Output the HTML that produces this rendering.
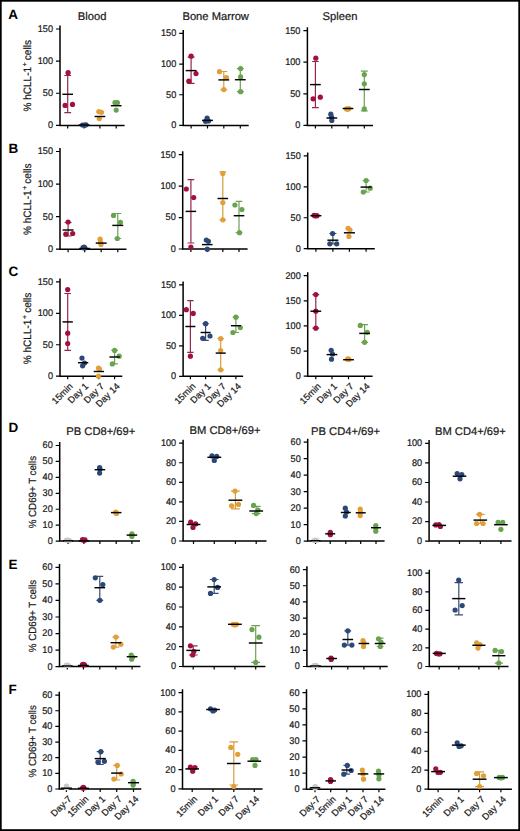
<!DOCTYPE html>
<html><head><meta charset="utf-8"><style>
html,body{margin:0;padding:0;background:#fff;}
svg{display:block;}
text{text-rendering:geometricPrecision;stroke:#1a1a1a;stroke-width:0.22px;}
.le{stroke:none;}
.t{font-family:"Liberation Sans", sans-serif;font-size:9.7px;fill:#1a1a1a;}
.ti{font-family:"Liberation Sans", sans-serif;font-size:11.2px;fill:#1a1a1a;}
.xl{font-family:"Liberation Sans", sans-serif;font-size:9.3px;fill:#1a1a1a;}
.le{font-family:"Liberation Sans", sans-serif;font-size:13.5px;font-weight:bold;fill:#000;}
.yl{font-family:"Liberation Sans", sans-serif;font-size:10.2px;fill:#1a1a1a;}
</style></head><body>
<svg width="520" height="831" viewBox="0 0 520 831">
<rect x="0" y="0" width="520" height="831" fill="#000"/>
<rect x="1.7" y="1.7" width="516.6" height="827.5" fill="#fff"/>
<path d="M60.00 25.60V125.40M59.25 125.40H124.60" stroke="#000" stroke-width="1.5" fill="none"/>
<text transform="translate(53.00 128.32) scale(0.94,1)" class="t" text-anchor="end">0</text>
<text transform="translate(53.00 96.19) scale(0.94,1)" class="t" text-anchor="end">50</text>
<text transform="translate(53.00 64.06) scale(0.94,1)" class="t" text-anchor="end">100</text>
<text transform="translate(53.00 31.92) scale(0.94,1)" class="t" text-anchor="end">150</text>
<path d="M56.00 125.40H60.00M56.00 93.27H60.00M56.00 61.13H60.00M56.00 29.00H60.00M67.70 125.40V128.40M84.10 125.40V128.40M99.90 125.40V128.40M116.20 125.40V128.40" stroke="#000" stroke-width="1.2" fill="none"/>
<path d="M67.70 75.50V112.60M64.31 75.50H71.09M64.31 112.60H71.09" stroke="#922a4c" stroke-width="1.2" fill="none"/>
<circle cx="68.10" cy="72.70" r="2.6" fill="#a2103c"/>
<circle cx="65.10" cy="105.40" r="2.6" fill="#a2103c"/>
<circle cx="72.50" cy="104.40" r="2.6" fill="#a2103c"/>
<path d="M62.37 94.30H73.03" stroke="#000" stroke-width="1.45"/>
<circle cx="82.50" cy="125.00" r="2.6" fill="#2c4878"/>
<circle cx="84.50" cy="125.20" r="2.6" fill="#2c4878"/>
<circle cx="86.00" cy="124.80" r="2.6" fill="#2c4878"/>
<path d="M78.76 125.00H89.44" stroke="#000" stroke-width="1.45"/>
<circle cx="98.80" cy="111.70" r="2.6" fill="#e29f37"/>
<circle cx="101.50" cy="112.30" r="2.6" fill="#e29f37"/>
<circle cx="99.30" cy="118.60" r="2.6" fill="#e29f37"/>
<path d="M94.56 116.50H105.24" stroke="#000" stroke-width="1.45"/>
<circle cx="115.00" cy="102.70" r="2.6" fill="#68a44e"/>
<circle cx="117.40" cy="102.70" r="2.6" fill="#68a44e"/>
<circle cx="116.20" cy="110.10" r="2.6" fill="#68a44e"/>
<path d="M110.87 105.70H121.53" stroke="#000" stroke-width="1.45"/>
<path d="M183.20 30.00V125.40M182.45 125.40H248.70" stroke="#000" stroke-width="1.5" fill="none"/>
<text transform="translate(176.20 128.32) scale(0.94,1)" class="t" text-anchor="end">0</text>
<text transform="translate(176.20 97.66) scale(0.94,1)" class="t" text-anchor="end">50</text>
<text transform="translate(176.20 66.99) scale(0.94,1)" class="t" text-anchor="end">100</text>
<text transform="translate(176.20 36.32) scale(0.94,1)" class="t" text-anchor="end">150</text>
<path d="M179.20 125.40H183.20M179.20 94.73H183.20M179.20 64.07H183.20M179.20 33.40H183.20M191.10 125.40V128.40M207.50 125.40V128.40M223.80 125.40V128.40M240.30 125.40V128.40" stroke="#000" stroke-width="1.2" fill="none"/>
<path d="M191.10 57.10V83.30M187.66 57.10H194.54M187.66 83.30H194.54" stroke="#922a4c" stroke-width="1.2" fill="none"/>
<circle cx="191.10" cy="56.20" r="2.6" fill="#a2103c"/>
<circle cx="196.00" cy="73.60" r="2.6" fill="#a2103c"/>
<circle cx="188.80" cy="81.20" r="2.6" fill="#a2103c"/>
<path d="M185.69 70.60H196.51" stroke="#000" stroke-width="1.45"/>
<circle cx="207.10" cy="118.20" r="2.6" fill="#2c4878"/>
<circle cx="205.50" cy="121.30" r="2.6" fill="#2c4878"/>
<circle cx="208.50" cy="121.00" r="2.6" fill="#2c4878"/>
<path d="M202.09 120.40H212.91" stroke="#000" stroke-width="1.45"/>
<path d="M223.80 71.50V89.60M220.36 71.50H227.24M220.36 89.60H227.24" stroke="#d59c3e" stroke-width="1.2" fill="none"/>
<circle cx="219.50" cy="71.70" r="2.6" fill="#e29f37"/>
<circle cx="226.40" cy="77.50" r="2.6" fill="#e29f37"/>
<circle cx="223.80" cy="89.60" r="2.6" fill="#e29f37"/>
<path d="M218.39 79.90H229.21" stroke="#000" stroke-width="1.45"/>
<path d="M240.30 68.60V91.70M236.86 68.60H243.74M236.86 91.70H243.74" stroke="#6ea058" stroke-width="1.2" fill="none"/>
<circle cx="240.60" cy="68.60" r="2.6" fill="#68a44e"/>
<circle cx="240.60" cy="76.90" r="2.6" fill="#68a44e"/>
<circle cx="240.60" cy="91.70" r="2.6" fill="#68a44e"/>
<path d="M234.89 79.70H245.71" stroke="#000" stroke-width="1.45"/>
<path d="M307.40 27.20V125.40M306.65 125.40H373.00" stroke="#000" stroke-width="1.5" fill="none"/>
<text transform="translate(300.40 128.32) scale(0.94,1)" class="t" text-anchor="end">0</text>
<text transform="translate(300.40 96.72) scale(0.94,1)" class="t" text-anchor="end">50</text>
<text transform="translate(300.40 65.12) scale(0.94,1)" class="t" text-anchor="end">100</text>
<text transform="translate(300.40 33.52) scale(0.94,1)" class="t" text-anchor="end">150</text>
<path d="M303.40 125.40H307.40M303.40 93.80H307.40M303.40 62.20H307.40M303.40 30.60H307.40M315.40 125.40V128.40M331.80 125.40V128.40M348.00 125.40V128.40M364.30 125.40V128.40" stroke="#000" stroke-width="1.2" fill="none"/>
<path d="M315.40 61.50V107.70M311.98 61.50H318.82M311.98 107.70H318.82" stroke="#922a4c" stroke-width="1.2" fill="none"/>
<circle cx="315.80" cy="58.20" r="2.6" fill="#a2103c"/>
<circle cx="313.10" cy="98.80" r="2.6" fill="#a2103c"/>
<circle cx="320.30" cy="97.20" r="2.6" fill="#a2103c"/>
<path d="M310.02 84.60H320.78" stroke="#000" stroke-width="1.45"/>
<circle cx="330.80" cy="114.20" r="2.6" fill="#2c4878"/>
<circle cx="331.50" cy="117.00" r="2.6" fill="#2c4878"/>
<circle cx="331.80" cy="120.50" r="2.6" fill="#2c4878"/>
<path d="M326.42 118.00H337.18" stroke="#000" stroke-width="1.45"/>
<circle cx="346.50" cy="108.90" r="2.6" fill="#e29f37"/>
<circle cx="349.00" cy="108.50" r="2.6" fill="#e29f37"/>
<circle cx="348.00" cy="109.20" r="2.6" fill="#e29f37"/>
<path d="M342.62 108.50H353.38" stroke="#000" stroke-width="1.45"/>
<path d="M364.30 71.20V110.80M360.88 71.20H367.72M360.88 110.80H367.72" stroke="#6ea058" stroke-width="1.2" fill="none"/>
<circle cx="364.30" cy="74.60" r="2.6" fill="#68a44e"/>
<circle cx="364.30" cy="83.80" r="2.6" fill="#68a44e"/>
<circle cx="364.30" cy="108.90" r="2.6" fill="#68a44e"/>
<path d="M358.92 89.50H369.68" stroke="#000" stroke-width="1.45"/>
<path d="M60.00 148.10V249.20M59.25 249.20H126.50" stroke="#000" stroke-width="1.5" fill="none"/>
<text transform="translate(53.00 252.12) scale(0.94,1)" class="t" text-anchor="end">0</text>
<text transform="translate(53.00 219.56) scale(0.94,1)" class="t" text-anchor="end">50</text>
<text transform="translate(53.00 186.99) scale(0.94,1)" class="t" text-anchor="end">100</text>
<text transform="translate(53.00 154.42) scale(0.94,1)" class="t" text-anchor="end">150</text>
<path d="M56.00 249.20H60.00M56.00 216.63H60.00M56.00 184.07H60.00M56.00 151.50H60.00M68.10 249.20V252.20M84.70 249.20V252.20M101.20 249.20V252.20M117.80 249.20V252.20" stroke="#000" stroke-width="1.2" fill="none"/>
<path d="M68.10 222.50V236.00M64.62 222.50H71.58M64.62 236.00H71.58" stroke="#922a4c" stroke-width="1.2" fill="none"/>
<circle cx="68.10" cy="222.00" r="2.6" fill="#a2103c"/>
<circle cx="65.80" cy="234.20" r="2.6" fill="#a2103c"/>
<circle cx="72.70" cy="233.50" r="2.6" fill="#a2103c"/>
<path d="M62.63 230.00H73.57" stroke="#000" stroke-width="1.45"/>
<circle cx="83.00" cy="247.70" r="2.6" fill="#2c4878"/>
<circle cx="85.00" cy="248.00" r="2.6" fill="#2c4878"/>
<circle cx="84.20" cy="247.20" r="2.6" fill="#2c4878"/>
<path d="M79.23 248.50H90.17" stroke="#000" stroke-width="1.45"/>
<circle cx="100.10" cy="239.20" r="2.6" fill="#e29f37"/>
<circle cx="100.50" cy="242.30" r="2.6" fill="#e29f37"/>
<circle cx="101.00" cy="244.50" r="2.6" fill="#e29f37"/>
<path d="M95.73 243.10H106.67" stroke="#000" stroke-width="1.45"/>
<path d="M117.80 213.50V238.50M114.32 213.50H121.28M114.32 238.50H121.28" stroke="#6ea058" stroke-width="1.2" fill="none"/>
<circle cx="113.50" cy="215.40" r="2.6" fill="#68a44e"/>
<circle cx="120.40" cy="222.30" r="2.6" fill="#68a44e"/>
<circle cx="117.30" cy="238.50" r="2.6" fill="#68a44e"/>
<path d="M112.33 225.40H123.27" stroke="#000" stroke-width="1.45"/>
<path d="M182.70 151.30V249.00M181.95 249.00H247.60" stroke="#000" stroke-width="1.5" fill="none"/>
<text transform="translate(175.70 251.92) scale(0.94,1)" class="t" text-anchor="end">0</text>
<text transform="translate(175.70 220.49) scale(0.94,1)" class="t" text-anchor="end">50</text>
<text transform="translate(175.70 189.06) scale(0.94,1)" class="t" text-anchor="end">100</text>
<text transform="translate(175.70 157.62) scale(0.94,1)" class="t" text-anchor="end">150</text>
<path d="M178.70 249.00H182.70M178.70 217.57H182.70M178.70 186.13H182.70M178.70 154.70H182.70M190.90 249.00V252.00M207.30 249.00V252.00M222.80 249.00V252.00M239.00 249.00V252.00" stroke="#000" stroke-width="1.2" fill="none"/>
<path d="M190.90 179.70V243.00M187.53 179.70H194.27M187.53 243.00H194.27" stroke="#922a4c" stroke-width="1.2" fill="none"/>
<circle cx="186.30" cy="189.00" r="2.6" fill="#a2103c"/>
<circle cx="193.70" cy="197.50" r="2.6" fill="#a2103c"/>
<circle cx="190.90" cy="247.10" r="2.6" fill="#a2103c"/>
<path d="M185.61 211.40H196.19" stroke="#000" stroke-width="1.45"/>
<circle cx="206.30" cy="240.00" r="2.6" fill="#2c4878"/>
<circle cx="208.40" cy="241.30" r="2.6" fill="#2c4878"/>
<circle cx="207.30" cy="249.20" r="2.6" fill="#2c4878"/>
<path d="M202.01 244.60H212.59" stroke="#000" stroke-width="1.45"/>
<path d="M222.80 171.90V220.00M219.43 171.90H226.17M219.43 220.00H226.17" stroke="#d59c3e" stroke-width="1.2" fill="none"/>
<circle cx="222.80" cy="173.50" r="2.6" fill="#e29f37"/>
<circle cx="222.80" cy="202.60" r="2.6" fill="#e29f37"/>
<circle cx="222.80" cy="219.80" r="2.6" fill="#e29f37"/>
<path d="M217.51 198.50H228.09" stroke="#000" stroke-width="1.45"/>
<path d="M239.00 201.30V232.70M235.63 201.30H242.37M235.63 232.70H242.37" stroke="#6ea058" stroke-width="1.2" fill="none"/>
<circle cx="234.90" cy="205.00" r="2.6" fill="#68a44e"/>
<circle cx="241.90" cy="209.50" r="2.6" fill="#68a44e"/>
<circle cx="239.50" cy="232.70" r="2.6" fill="#68a44e"/>
<path d="M233.71 215.70H244.29" stroke="#000" stroke-width="1.45"/>
<path d="M307.70 152.50V248.70M306.95 248.70H374.80" stroke="#000" stroke-width="1.5" fill="none"/>
<text transform="translate(300.70 251.62) scale(0.94,1)" class="t" text-anchor="end">0</text>
<text transform="translate(300.70 220.69) scale(0.94,1)" class="t" text-anchor="end">50</text>
<text transform="translate(300.70 189.76) scale(0.94,1)" class="t" text-anchor="end">100</text>
<text transform="translate(300.70 158.82) scale(0.94,1)" class="t" text-anchor="end">150</text>
<path d="M303.70 248.70H307.70M303.70 217.77H307.70M303.70 186.83H307.70M303.70 155.90H307.70M315.90 248.70V251.70M332.90 248.70V251.70M349.40 248.70V251.70M366.10 248.70V251.70" stroke="#000" stroke-width="1.2" fill="none"/>
<circle cx="314.00" cy="215.30" r="2.6" fill="#a2103c"/>
<circle cx="317.00" cy="215.70" r="2.6" fill="#a2103c"/>
<circle cx="315.40" cy="216.00" r="2.6" fill="#a2103c"/>
<path d="M310.38 215.70H321.42" stroke="#000" stroke-width="1.45"/>
<path d="M332.90 233.50V244.00M329.39 233.50H336.41M329.39 244.00H336.41" stroke="#3a4c72" stroke-width="1.2" fill="none"/>
<circle cx="332.60" cy="233.50" r="2.6" fill="#2c4878"/>
<circle cx="329.80" cy="243.80" r="2.6" fill="#2c4878"/>
<circle cx="336.70" cy="243.80" r="2.6" fill="#2c4878"/>
<path d="M327.38 240.20H338.42" stroke="#000" stroke-width="1.45"/>
<circle cx="348.10" cy="228.30" r="2.6" fill="#e29f37"/>
<circle cx="350.00" cy="230.00" r="2.6" fill="#e29f37"/>
<circle cx="348.90" cy="236.40" r="2.6" fill="#e29f37"/>
<path d="M343.88 232.80H354.92" stroke="#000" stroke-width="1.45"/>
<path d="M366.10 180.50V192.00M362.59 180.50H369.61M362.59 192.00H369.61" stroke="#6ea058" stroke-width="1.2" fill="none"/>
<circle cx="366.10" cy="180.50" r="2.6" fill="#68a44e"/>
<circle cx="370.20" cy="188.20" r="2.6" fill="#68a44e"/>
<circle cx="363.30" cy="192.00" r="2.6" fill="#68a44e"/>
<path d="M360.58 187.10H371.62" stroke="#000" stroke-width="1.45"/>
<path d="M60.00 278.50V376.20M59.25 376.20H122.30" stroke="#000" stroke-width="1.5" fill="none"/>
<text transform="translate(53.00 379.12) scale(0.94,1)" class="t" text-anchor="end">0</text>
<text transform="translate(53.00 347.69) scale(0.94,1)" class="t" text-anchor="end">50</text>
<text transform="translate(53.00 316.26) scale(0.94,1)" class="t" text-anchor="end">100</text>
<text transform="translate(53.00 284.82) scale(0.94,1)" class="t" text-anchor="end">150</text>
<path d="M56.00 376.20H60.00M56.00 344.77H60.00M56.00 313.33H60.00M56.00 281.90H60.00M67.70 376.20V379.20M83.10 376.20V379.20M98.90 376.20V379.20M114.60 376.20V379.20" stroke="#000" stroke-width="1.2" fill="none"/>
<path d="M67.70 293.50V350.40M64.42 293.50H70.98M64.42 350.40H70.98" stroke="#922a4c" stroke-width="1.2" fill="none"/>
<circle cx="67.70" cy="289.60" r="2.6" fill="#a2103c"/>
<circle cx="67.70" cy="333.20" r="2.6" fill="#a2103c"/>
<circle cx="67.70" cy="343.50" r="2.6" fill="#a2103c"/>
<path d="M62.54 321.90H72.86" stroke="#000" stroke-width="1.45"/>
<circle cx="82.00" cy="358.10" r="2.6" fill="#2c4878"/>
<circle cx="84.50" cy="363.00" r="2.6" fill="#2c4878"/>
<circle cx="82.60" cy="365.80" r="2.6" fill="#2c4878"/>
<path d="M77.94 362.70H88.26" stroke="#000" stroke-width="1.45"/>
<circle cx="98.50" cy="368.10" r="2.6" fill="#e29f37"/>
<circle cx="99.50" cy="369.00" r="2.6" fill="#e29f37"/>
<circle cx="98.50" cy="376.20" r="2.6" fill="#e29f37"/>
<path d="M93.74 371.50H104.06" stroke="#000" stroke-width="1.45"/>
<path d="M114.60 350.40V363.90M111.32 350.40H117.88M111.32 363.90H117.88" stroke="#6ea058" stroke-width="1.2" fill="none"/>
<circle cx="114.60" cy="350.40" r="2.6" fill="#68a44e"/>
<circle cx="119.20" cy="356.20" r="2.6" fill="#68a44e"/>
<circle cx="112.30" cy="363.90" r="2.6" fill="#68a44e"/>
<path d="M109.44 357.00H119.76" stroke="#000" stroke-width="1.45"/>
<text class="xl" text-anchor="end" transform="translate(73.40 386.80) rotate(-45)">15min</text>
<text class="xl" text-anchor="end" transform="translate(88.80 386.80) rotate(-45)">Day 1</text>
<text class="xl" text-anchor="end" transform="translate(104.60 386.80) rotate(-45)">Day 7</text>
<text class="xl" text-anchor="end" transform="translate(120.30 386.80) rotate(-45)">Day 14</text>
<path d="M183.10 281.40V376.30M182.35 376.30H243.10" stroke="#000" stroke-width="1.5" fill="none"/>
<text transform="translate(176.10 379.22) scale(0.94,1)" class="t" text-anchor="end">0</text>
<text transform="translate(176.10 348.72) scale(0.94,1)" class="t" text-anchor="end">50</text>
<text transform="translate(176.10 318.22) scale(0.94,1)" class="t" text-anchor="end">100</text>
<text transform="translate(176.10 287.72) scale(0.94,1)" class="t" text-anchor="end">150</text>
<path d="M179.10 376.30H183.10M179.10 345.80H183.10M179.10 315.30H183.10M179.10 284.80H183.10M190.40 376.30V379.30M205.60 376.30V379.30M220.70 376.30V379.30M235.90 376.30V379.30" stroke="#000" stroke-width="1.2" fill="none"/>
<path d="M190.40 300.70V352.30M187.22 300.70H193.59M187.22 352.30H193.59" stroke="#922a4c" stroke-width="1.2" fill="none"/>
<circle cx="186.30" cy="309.70" r="2.6" fill="#a2103c"/>
<circle cx="193.20" cy="313.40" r="2.6" fill="#a2103c"/>
<circle cx="190.40" cy="356.20" r="2.6" fill="#a2103c"/>
<path d="M185.40 326.50H195.41" stroke="#000" stroke-width="1.45"/>
<path d="M205.60 323.70V340.40M202.41 323.70H208.78M202.41 340.40H208.78" stroke="#3a4c72" stroke-width="1.2" fill="none"/>
<circle cx="205.60" cy="323.70" r="2.6" fill="#2c4878"/>
<circle cx="202.70" cy="338.30" r="2.6" fill="#2c4878"/>
<circle cx="210.00" cy="336.00" r="2.6" fill="#2c4878"/>
<path d="M200.59 332.50H210.60" stroke="#000" stroke-width="1.45"/>
<path d="M220.70 338.70V369.80M217.51 338.70H223.88M217.51 369.80H223.88" stroke="#d59c3e" stroke-width="1.2" fill="none"/>
<circle cx="220.70" cy="338.70" r="2.6" fill="#e29f37"/>
<circle cx="220.70" cy="350.50" r="2.6" fill="#e29f37"/>
<circle cx="220.70" cy="369.80" r="2.6" fill="#e29f37"/>
<path d="M215.69 353.10H225.70" stroke="#000" stroke-width="1.45"/>
<path d="M235.90 317.20V332.50M232.72 317.20H239.09M232.72 332.50H239.09" stroke="#6ea058" stroke-width="1.2" fill="none"/>
<circle cx="235.90" cy="317.20" r="2.6" fill="#68a44e"/>
<circle cx="240.30" cy="327.60" r="2.6" fill="#68a44e"/>
<circle cx="232.90" cy="332.50" r="2.6" fill="#68a44e"/>
<path d="M230.90 325.70H240.91" stroke="#000" stroke-width="1.45"/>
<text class="xl" text-anchor="end" transform="translate(196.10 386.90) rotate(-45)">15min</text>
<text class="xl" text-anchor="end" transform="translate(211.30 386.90) rotate(-45)">Day 1</text>
<text class="xl" text-anchor="end" transform="translate(226.40 386.90) rotate(-45)">Day 7</text>
<text class="xl" text-anchor="end" transform="translate(241.60 386.90) rotate(-45)">Day 14</text>
<path d="M307.70 272.30V376.20M306.95 376.20H372.60" stroke="#000" stroke-width="1.5" fill="none"/>
<text transform="translate(300.70 379.12) scale(0.94,1)" class="t" text-anchor="end">0</text>
<text transform="translate(300.70 354.00) scale(0.94,1)" class="t" text-anchor="end">50</text>
<text transform="translate(300.70 328.87) scale(0.94,1)" class="t" text-anchor="end">100</text>
<text transform="translate(300.70 303.75) scale(0.94,1)" class="t" text-anchor="end">150</text>
<text transform="translate(300.70 278.62) scale(0.94,1)" class="t" text-anchor="end">200</text>
<path d="M303.70 376.20H307.70M303.70 351.07H307.70M303.70 325.95H307.70M303.70 300.82H307.70M303.70 275.70H307.70M315.80 376.20V379.20M332.00 376.20V379.20M348.50 376.20V379.20M364.60 376.20V379.20" stroke="#000" stroke-width="1.2" fill="none"/>
<path d="M315.80 294.60V328.20M312.38 294.60H319.22M312.38 328.20H319.22" stroke="#922a4c" stroke-width="1.2" fill="none"/>
<circle cx="315.80" cy="294.60" r="2.6" fill="#a2103c"/>
<circle cx="315.80" cy="311.20" r="2.6" fill="#a2103c"/>
<circle cx="315.80" cy="328.20" r="2.6" fill="#a2103c"/>
<path d="M310.43 311.20H321.17" stroke="#000" stroke-width="1.45"/>
<circle cx="331.20" cy="350.30" r="2.6" fill="#2c4878"/>
<circle cx="332.50" cy="354.00" r="2.6" fill="#2c4878"/>
<circle cx="331.50" cy="359.20" r="2.6" fill="#2c4878"/>
<path d="M326.63 354.60H337.37" stroke="#000" stroke-width="1.45"/>
<circle cx="347.50" cy="359.20" r="2.6" fill="#e29f37"/>
<circle cx="349.00" cy="359.50" r="2.6" fill="#e29f37"/>
<circle cx="348.30" cy="358.80" r="2.6" fill="#e29f37"/>
<path d="M343.13 359.70H353.87" stroke="#000" stroke-width="1.45"/>
<path d="M364.60 324.60V342.30M361.18 324.60H368.02M361.18 342.30H368.02" stroke="#6ea058" stroke-width="1.2" fill="none"/>
<circle cx="360.30" cy="325.40" r="2.6" fill="#68a44e"/>
<circle cx="367.20" cy="332.30" r="2.6" fill="#68a44e"/>
<circle cx="364.60" cy="342.30" r="2.6" fill="#68a44e"/>
<path d="M359.23 333.40H369.97" stroke="#000" stroke-width="1.45"/>
<text class="xl" text-anchor="end" transform="translate(321.50 386.80) rotate(-45)">15min</text>
<text class="xl" text-anchor="end" transform="translate(337.70 386.80) rotate(-45)">Day 1</text>
<text class="xl" text-anchor="end" transform="translate(354.20 386.80) rotate(-45)">Day 7</text>
<text class="xl" text-anchor="end" transform="translate(370.30 386.80) rotate(-45)">Day 14</text>
<path d="M59.70 442.10V541.10M58.95 541.10H140.00" stroke="#000" stroke-width="1.5" fill="none"/>
<text transform="translate(52.70 544.02) scale(0.94,1)" class="t" text-anchor="end">0</text>
<text transform="translate(52.70 528.09) scale(0.94,1)" class="t" text-anchor="end">10</text>
<text transform="translate(52.70 512.16) scale(0.94,1)" class="t" text-anchor="end">20</text>
<text transform="translate(52.70 496.22) scale(0.94,1)" class="t" text-anchor="end">30</text>
<text transform="translate(52.70 480.29) scale(0.94,1)" class="t" text-anchor="end">40</text>
<text transform="translate(52.70 464.36) scale(0.94,1)" class="t" text-anchor="end">50</text>
<text transform="translate(52.70 448.42) scale(0.94,1)" class="t" text-anchor="end">60</text>
<path d="M55.70 541.10H59.70M55.70 525.17H59.70M55.70 509.23H59.70M55.70 493.30H59.70M55.70 477.37H59.70M55.70 461.43H59.70M55.70 445.50H59.70M68.10 541.10V544.10M83.90 541.10V544.10M99.90 541.10V544.10M116.20 541.10V544.10M131.90 541.10V544.10" stroke="#000" stroke-width="1.2" fill="none"/>
<circle cx="66.50" cy="540.20" r="2.6" fill="#c9c9c9"/>
<circle cx="69.50" cy="540.50" r="2.6" fill="#c9c9c9"/>
<circle cx="68.00" cy="540.00" r="2.6" fill="#c9c9c9"/>
<path d="M62.84 540.80H73.36" stroke="#000" stroke-width="1.45"/>
<circle cx="82.50" cy="539.70" r="2.6" fill="#a2103c"/>
<circle cx="85.00" cy="539.90" r="2.6" fill="#a2103c"/>
<circle cx="83.90" cy="540.30" r="2.6" fill="#a2103c"/>
<path d="M78.64 540.90H89.16" stroke="#000" stroke-width="1.45"/>
<circle cx="99.60" cy="467.70" r="2.6" fill="#2c4878"/>
<circle cx="99.60" cy="473.10" r="2.6" fill="#2c4878"/>
<circle cx="100.00" cy="469.00" r="2.6" fill="#2c4878"/>
<path d="M94.64 469.70H105.16" stroke="#000" stroke-width="1.45"/>
<circle cx="115.80" cy="512.00" r="2.6" fill="#e29f37"/>
<circle cx="116.50" cy="513.50" r="2.6" fill="#e29f37"/>
<circle cx="116.00" cy="512.80" r="2.6" fill="#e29f37"/>
<path d="M110.94 512.60H121.46" stroke="#000" stroke-width="1.45"/>
<circle cx="131.90" cy="533.80" r="2.6" fill="#68a44e"/>
<circle cx="131.90" cy="536.50" r="2.6" fill="#68a44e"/>
<circle cx="132.00" cy="535.00" r="2.6" fill="#68a44e"/>
<path d="M126.64 535.10H137.16" stroke="#000" stroke-width="1.45"/>
<path d="M183.10 439.80V541.00M182.35 541.00H266.50" stroke="#000" stroke-width="1.5" fill="none"/>
<text transform="translate(176.10 543.92) scale(0.94,1)" class="t" text-anchor="end">0</text>
<text transform="translate(176.10 524.36) scale(0.94,1)" class="t" text-anchor="end">20</text>
<text transform="translate(176.10 504.80) scale(0.94,1)" class="t" text-anchor="end">40</text>
<text transform="translate(176.10 485.24) scale(0.94,1)" class="t" text-anchor="end">60</text>
<text transform="translate(176.10 465.68) scale(0.94,1)" class="t" text-anchor="end">80</text>
<text transform="translate(176.10 446.12) scale(0.94,1)" class="t" text-anchor="end">100</text>
<path d="M179.10 541.00H183.10M179.10 521.44H183.10M179.10 501.88H183.10M179.10 482.32H183.10M179.10 462.76H183.10M179.10 443.20H183.10M193.50 541.00V544.00M214.30 541.00V544.00M235.40 541.00V544.00M256.20 541.00V544.00" stroke="#000" stroke-width="1.2" fill="none"/>
<circle cx="190.70" cy="522.20" r="2.6" fill="#a2103c"/>
<circle cx="195.60" cy="523.90" r="2.6" fill="#a2103c"/>
<circle cx="193.00" cy="527.40" r="2.6" fill="#a2103c"/>
<path d="M186.60 524.50H200.40" stroke="#000" stroke-width="1.45"/>
<circle cx="212.00" cy="455.90" r="2.6" fill="#2c4878"/>
<circle cx="216.70" cy="456.40" r="2.6" fill="#2c4878"/>
<circle cx="214.30" cy="460.40" r="2.6" fill="#2c4878"/>
<path d="M207.40 457.30H221.20" stroke="#000" stroke-width="1.45"/>
<path d="M235.40 491.10V508.90M231.01 491.10H239.79M231.01 508.90H239.79" stroke="#d59c3e" stroke-width="1.2" fill="none"/>
<circle cx="235.00" cy="491.10" r="2.6" fill="#e29f37"/>
<circle cx="231.60" cy="505.80" r="2.6" fill="#e29f37"/>
<circle cx="238.50" cy="504.40" r="2.6" fill="#e29f37"/>
<path d="M228.50 500.20H242.30" stroke="#000" stroke-width="1.45"/>
<path d="M256.20 506.30V513.60M251.81 506.30H260.59M251.81 513.60H260.59" stroke="#6ea058" stroke-width="1.2" fill="none"/>
<circle cx="253.60" cy="505.40" r="2.6" fill="#68a44e"/>
<circle cx="256.20" cy="513.60" r="2.6" fill="#68a44e"/>
<circle cx="258.00" cy="510.00" r="2.6" fill="#68a44e"/>
<path d="M249.30 511.00H263.10" stroke="#000" stroke-width="1.45"/>
<path d="M307.70 438.80V541.10M306.95 541.10H384.60" stroke="#000" stroke-width="1.5" fill="none"/>
<text transform="translate(300.70 544.02) scale(0.94,1)" class="t" text-anchor="end">0</text>
<text transform="translate(300.70 527.54) scale(0.94,1)" class="t" text-anchor="end">10</text>
<text transform="translate(300.70 511.06) scale(0.94,1)" class="t" text-anchor="end">20</text>
<text transform="translate(300.70 494.57) scale(0.94,1)" class="t" text-anchor="end">30</text>
<text transform="translate(300.70 478.09) scale(0.94,1)" class="t" text-anchor="end">40</text>
<text transform="translate(300.70 461.61) scale(0.94,1)" class="t" text-anchor="end">50</text>
<text transform="translate(300.70 445.12) scale(0.94,1)" class="t" text-anchor="end">60</text>
<path d="M303.70 541.10H307.70M303.70 524.62H307.70M303.70 508.13H307.70M303.70 491.65H307.70M303.70 475.17H307.70M303.70 458.68H307.70M303.70 442.20H307.70M315.50 541.10V544.10M330.20 541.10V544.10M345.80 541.10V544.10M360.70 541.10V544.10M376.00 541.10V544.10" stroke="#000" stroke-width="1.2" fill="none"/>
<circle cx="315.20" cy="540.20" r="2.6" fill="#c9c9c9"/>
<circle cx="314.00" cy="540.50" r="2.6" fill="#c9c9c9"/>
<circle cx="316.50" cy="540.40" r="2.6" fill="#c9c9c9"/>
<path d="M310.51 540.70H320.49" stroke="#000" stroke-width="1.45"/>
<circle cx="330.30" cy="532.40" r="2.6" fill="#a2103c"/>
<circle cx="330.30" cy="534.70" r="2.6" fill="#a2103c"/>
<circle cx="330.30" cy="533.50" r="2.6" fill="#a2103c"/>
<path d="M325.21 533.80H335.19" stroke="#000" stroke-width="1.45"/>
<circle cx="345.30" cy="508.20" r="2.6" fill="#2c4878"/>
<circle cx="346.50" cy="512.00" r="2.6" fill="#2c4878"/>
<circle cx="345.30" cy="516.00" r="2.6" fill="#2c4878"/>
<path d="M340.81 512.50H350.79" stroke="#000" stroke-width="1.45"/>
<circle cx="360.20" cy="509.00" r="2.6" fill="#e29f37"/>
<circle cx="360.50" cy="512.00" r="2.6" fill="#e29f37"/>
<circle cx="360.20" cy="515.60" r="2.6" fill="#e29f37"/>
<path d="M355.71 512.80H365.69" stroke="#000" stroke-width="1.45"/>
<circle cx="375.80" cy="525.50" r="2.6" fill="#68a44e"/>
<circle cx="375.80" cy="528.00" r="2.6" fill="#68a44e"/>
<circle cx="375.80" cy="531.20" r="2.6" fill="#68a44e"/>
<path d="M371.01 527.70H380.99" stroke="#000" stroke-width="1.45"/>
<path d="M429.10 440.00V541.10M428.35 541.10H511.50" stroke="#000" stroke-width="1.5" fill="none"/>
<text transform="translate(422.10 544.02) scale(0.94,1)" class="t" text-anchor="end">0</text>
<text transform="translate(422.10 524.48) scale(0.94,1)" class="t" text-anchor="end">20</text>
<text transform="translate(422.10 504.94) scale(0.94,1)" class="t" text-anchor="end">40</text>
<text transform="translate(422.10 485.40) scale(0.94,1)" class="t" text-anchor="end">60</text>
<text transform="translate(422.10 465.86) scale(0.94,1)" class="t" text-anchor="end">80</text>
<text transform="translate(422.10 446.32) scale(0.94,1)" class="t" text-anchor="end">100</text>
<path d="M425.10 541.10H429.10M425.10 521.56H429.10M425.10 502.02H429.10M425.10 482.48H429.10M425.10 462.94H429.10M425.10 443.40H429.10M439.20 541.10V544.10M459.50 541.10V544.10M480.30 541.10V544.10M500.90 541.10V544.10" stroke="#000" stroke-width="1.2" fill="none"/>
<circle cx="435.80" cy="524.90" r="2.6" fill="#a2103c"/>
<circle cx="440.40" cy="526.50" r="2.6" fill="#a2103c"/>
<circle cx="439.00" cy="524.50" r="2.6" fill="#a2103c"/>
<path d="M432.41 525.40H445.99" stroke="#000" stroke-width="1.45"/>
<circle cx="457.20" cy="473.50" r="2.6" fill="#2c4878"/>
<circle cx="461.80" cy="474.60" r="2.6" fill="#2c4878"/>
<circle cx="460.00" cy="478.80" r="2.6" fill="#2c4878"/>
<path d="M452.71 476.20H466.29" stroke="#000" stroke-width="1.45"/>
<path d="M480.30 514.30V523.50M475.98 514.30H484.62M475.98 523.50H484.62" stroke="#d59c3e" stroke-width="1.2" fill="none"/>
<circle cx="479.60" cy="514.30" r="2.6" fill="#e29f37"/>
<circle cx="476.60" cy="523.50" r="2.6" fill="#e29f37"/>
<circle cx="483.10" cy="523.50" r="2.6" fill="#e29f37"/>
<path d="M473.51 520.10H487.09" stroke="#000" stroke-width="1.45"/>
<circle cx="498.10" cy="522.40" r="2.6" fill="#68a44e"/>
<circle cx="502.70" cy="522.40" r="2.6" fill="#68a44e"/>
<circle cx="500.90" cy="529.30" r="2.6" fill="#68a44e"/>
<path d="M494.11 524.70H507.69" stroke="#000" stroke-width="1.45"/>
<path d="M59.50 564.00V666.60M58.75 666.60H140.40" stroke="#000" stroke-width="1.5" fill="none"/>
<text transform="translate(52.50 669.52) scale(0.94,1)" class="t" text-anchor="end">0</text>
<text transform="translate(52.50 652.99) scale(0.94,1)" class="t" text-anchor="end">10</text>
<text transform="translate(52.50 636.46) scale(0.94,1)" class="t" text-anchor="end">20</text>
<text transform="translate(52.50 619.92) scale(0.94,1)" class="t" text-anchor="end">30</text>
<text transform="translate(52.50 603.39) scale(0.94,1)" class="t" text-anchor="end">40</text>
<text transform="translate(52.50 586.86) scale(0.94,1)" class="t" text-anchor="end">50</text>
<text transform="translate(52.50 570.32) scale(0.94,1)" class="t" text-anchor="end">60</text>
<path d="M55.50 666.60H59.50M55.50 650.07H59.50M55.50 633.53H59.50M55.50 617.00H59.50M55.50 600.47H59.50M55.50 583.93H59.50M55.50 567.40H59.50M67.30 666.60V669.60M83.40 666.60V669.60M99.80 666.60V669.60M115.90 666.60V669.60M132.10 666.60V669.60" stroke="#000" stroke-width="1.2" fill="none"/>
<circle cx="66.00" cy="665.30" r="2.6" fill="#c9c9c9"/>
<circle cx="68.50" cy="665.50" r="2.6" fill="#c9c9c9"/>
<circle cx="67.30" cy="665.10" r="2.6" fill="#c9c9c9"/>
<path d="M61.95 666.00H72.65" stroke="#000" stroke-width="1.45"/>
<circle cx="82.50" cy="664.60" r="2.6" fill="#a2103c"/>
<circle cx="84.50" cy="664.80" r="2.6" fill="#a2103c"/>
<circle cx="83.40" cy="664.40" r="2.6" fill="#a2103c"/>
<path d="M78.05 665.50H88.75" stroke="#000" stroke-width="1.45"/>
<path d="M99.80 576.40V600.30M96.40 576.40H103.20M96.40 600.30H103.20" stroke="#3a4c72" stroke-width="1.2" fill="none"/>
<circle cx="95.30" cy="577.80" r="2.6" fill="#2c4878"/>
<circle cx="102.80" cy="584.60" r="2.6" fill="#2c4878"/>
<circle cx="99.80" cy="600.30" r="2.6" fill="#2c4878"/>
<path d="M94.45 587.70H105.15" stroke="#000" stroke-width="1.45"/>
<path d="M115.90 637.10V647.10M112.50 637.10H119.30M112.50 647.10H119.30" stroke="#d59c3e" stroke-width="1.2" fill="none"/>
<circle cx="115.90" cy="637.10" r="2.6" fill="#e29f37"/>
<circle cx="113.30" cy="647.10" r="2.6" fill="#e29f37"/>
<circle cx="120.80" cy="644.20" r="2.6" fill="#e29f37"/>
<path d="M110.55 642.70H121.25" stroke="#000" stroke-width="1.45"/>
<circle cx="131.20" cy="655.20" r="2.6" fill="#68a44e"/>
<circle cx="131.70" cy="659.20" r="2.6" fill="#68a44e"/>
<circle cx="132.50" cy="657.00" r="2.6" fill="#68a44e"/>
<path d="M126.75 656.70H137.45" stroke="#000" stroke-width="1.45"/>
<path d="M183.00 563.90V666.50M182.25 666.50H265.40" stroke="#000" stroke-width="1.5" fill="none"/>
<text transform="translate(176.00 669.42) scale(0.94,1)" class="t" text-anchor="end">0</text>
<text transform="translate(176.00 649.58) scale(0.94,1)" class="t" text-anchor="end">20</text>
<text transform="translate(176.00 629.74) scale(0.94,1)" class="t" text-anchor="end">40</text>
<text transform="translate(176.00 609.90) scale(0.94,1)" class="t" text-anchor="end">60</text>
<text transform="translate(176.00 590.06) scale(0.94,1)" class="t" text-anchor="end">80</text>
<text transform="translate(176.00 570.22) scale(0.94,1)" class="t" text-anchor="end">100</text>
<path d="M179.00 666.50H183.00M179.00 646.66H183.00M179.00 626.82H183.00M179.00 606.98H183.00M179.00 587.14H183.00M179.00 567.30H183.00M193.20 666.50V669.50M214.20 666.50V669.50M234.90 666.50V669.50M255.70 666.50V669.50" stroke="#000" stroke-width="1.2" fill="none"/>
<path d="M193.20 645.80V655.00M188.82 645.80H197.57M188.82 655.00H197.57" stroke="#922a4c" stroke-width="1.2" fill="none"/>
<circle cx="190.40" cy="645.80" r="2.6" fill="#a2103c"/>
<circle cx="193.80" cy="651.50" r="2.6" fill="#a2103c"/>
<circle cx="192.70" cy="655.00" r="2.6" fill="#a2103c"/>
<path d="M186.32 650.40H200.07" stroke="#000" stroke-width="1.45"/>
<path d="M214.20 579.50V593.40M209.82 579.50H218.57M209.82 593.40H218.57" stroke="#3a4c72" stroke-width="1.2" fill="none"/>
<circle cx="214.20" cy="579.50" r="2.6" fill="#2c4878"/>
<circle cx="217.60" cy="587.40" r="2.6" fill="#2c4878"/>
<circle cx="210.50" cy="593.40" r="2.6" fill="#2c4878"/>
<path d="M207.32 586.90H221.07" stroke="#000" stroke-width="1.45"/>
<circle cx="233.10" cy="624.30" r="2.6" fill="#e29f37"/>
<circle cx="236.50" cy="624.30" r="2.6" fill="#e29f37"/>
<circle cx="235.00" cy="625.00" r="2.6" fill="#e29f37"/>
<path d="M228.03 624.30H241.78" stroke="#000" stroke-width="1.45"/>
<path d="M255.70 625.70V662.40M251.32 625.70H260.07M251.32 662.40H260.07" stroke="#6ea058" stroke-width="1.2" fill="none"/>
<circle cx="252.00" cy="629.60" r="2.6" fill="#68a44e"/>
<circle cx="258.90" cy="637.20" r="2.6" fill="#68a44e"/>
<circle cx="255.70" cy="662.40" r="2.6" fill="#68a44e"/>
<path d="M248.82 643.00H262.57" stroke="#000" stroke-width="1.45"/>
<path d="M306.90 566.20V666.50M306.15 666.50H387.70" stroke="#000" stroke-width="1.5" fill="none"/>
<text transform="translate(299.90 669.42) scale(0.94,1)" class="t" text-anchor="end">0</text>
<text transform="translate(299.90 653.27) scale(0.94,1)" class="t" text-anchor="end">10</text>
<text transform="translate(299.90 637.12) scale(0.94,1)" class="t" text-anchor="end">20</text>
<text transform="translate(299.90 620.97) scale(0.94,1)" class="t" text-anchor="end">30</text>
<text transform="translate(299.90 604.82) scale(0.94,1)" class="t" text-anchor="end">40</text>
<text transform="translate(299.90 588.67) scale(0.94,1)" class="t" text-anchor="end">50</text>
<text transform="translate(299.90 572.52) scale(0.94,1)" class="t" text-anchor="end">60</text>
<path d="M302.90 666.50H306.90M302.90 650.35H306.90M302.90 634.20H306.90M302.90 618.05H306.90M302.90 601.90H306.90M302.90 585.75H306.90M302.90 569.60H306.90M315.50 666.50V669.50M331.60 666.50V669.50M347.80 666.50V669.50M363.90 666.50V669.50M380.10 666.50V669.50" stroke="#000" stroke-width="1.2" fill="none"/>
<circle cx="314.00" cy="665.50" r="2.6" fill="#c9c9c9"/>
<circle cx="316.50" cy="665.60" r="2.6" fill="#c9c9c9"/>
<circle cx="315.00" cy="665.40" r="2.6" fill="#c9c9c9"/>
<path d="M310.17 666.00H320.83" stroke="#000" stroke-width="1.45"/>
<circle cx="331.20" cy="658.50" r="2.6" fill="#a2103c"/>
<circle cx="331.20" cy="659.50" r="2.6" fill="#a2103c"/>
<circle cx="331.00" cy="658.00" r="2.6" fill="#a2103c"/>
<path d="M326.27 658.50H336.93" stroke="#000" stroke-width="1.45"/>
<path d="M347.80 630.80V645.10M344.41 630.80H351.19M344.41 645.10H351.19" stroke="#3a4c72" stroke-width="1.2" fill="none"/>
<circle cx="347.80" cy="630.80" r="2.6" fill="#2c4878"/>
<circle cx="344.30" cy="645.10" r="2.6" fill="#2c4878"/>
<circle cx="351.90" cy="645.10" r="2.6" fill="#2c4878"/>
<path d="M342.47 639.50H353.13" stroke="#000" stroke-width="1.45"/>
<circle cx="363.00" cy="640.70" r="2.6" fill="#e29f37"/>
<circle cx="363.50" cy="646.50" r="2.6" fill="#e29f37"/>
<circle cx="364.00" cy="643.00" r="2.6" fill="#e29f37"/>
<path d="M358.57 643.50H369.23" stroke="#000" stroke-width="1.45"/>
<path d="M380.10 638.20V646.50M376.71 638.20H383.49M376.71 646.50H383.49" stroke="#6ea058" stroke-width="1.2" fill="none"/>
<circle cx="378.50" cy="638.80" r="2.6" fill="#68a44e"/>
<circle cx="380.30" cy="646.50" r="2.6" fill="#68a44e"/>
<circle cx="381.00" cy="642.00" r="2.6" fill="#68a44e"/>
<path d="M374.77 643.50H385.43" stroke="#000" stroke-width="1.45"/>
<path d="M429.30 569.70V666.50M428.55 666.50H508.50" stroke="#000" stroke-width="1.5" fill="none"/>
<text transform="translate(422.30 669.42) scale(0.94,1)" class="t" text-anchor="end">0</text>
<text transform="translate(422.30 650.74) scale(0.94,1)" class="t" text-anchor="end">20</text>
<text transform="translate(422.30 632.06) scale(0.94,1)" class="t" text-anchor="end">40</text>
<text transform="translate(422.30 613.38) scale(0.94,1)" class="t" text-anchor="end">60</text>
<text transform="translate(422.30 594.70) scale(0.94,1)" class="t" text-anchor="end">80</text>
<text transform="translate(422.30 576.02) scale(0.94,1)" class="t" text-anchor="end">100</text>
<path d="M425.30 666.50H429.30M425.30 647.82H429.30M425.30 629.14H429.30M425.30 610.46H429.30M425.30 591.78H429.30M425.30 573.10H429.30M439.20 666.50V669.50M458.80 666.50V669.50M478.90 666.50V669.50M498.80 666.50V669.50" stroke="#000" stroke-width="1.2" fill="none"/>
<circle cx="436.50" cy="653.40" r="2.6" fill="#a2103c"/>
<circle cx="440.00" cy="653.80" r="2.6" fill="#a2103c"/>
<circle cx="438.50" cy="654.00" r="2.6" fill="#a2103c"/>
<path d="M432.64 653.40H445.76" stroke="#000" stroke-width="1.45"/>
<path d="M458.80 582.60V614.80M454.63 582.60H462.97M454.63 614.80H462.97" stroke="#3a4c72" stroke-width="1.2" fill="none"/>
<circle cx="458.70" cy="580.10" r="2.6" fill="#2c4878"/>
<circle cx="462.20" cy="605.60" r="2.6" fill="#2c4878"/>
<circle cx="455.10" cy="610.00" r="2.6" fill="#2c4878"/>
<path d="M452.24 598.60H465.36" stroke="#000" stroke-width="1.45"/>
<circle cx="476.60" cy="642.80" r="2.6" fill="#e29f37"/>
<circle cx="480.00" cy="644.50" r="2.6" fill="#e29f37"/>
<circle cx="478.00" cy="648.10" r="2.6" fill="#e29f37"/>
<path d="M472.34 645.30H485.46" stroke="#000" stroke-width="1.45"/>
<path d="M498.80 650.40V663.10M494.63 650.40H502.97M494.63 663.10H502.97" stroke="#6ea058" stroke-width="1.2" fill="none"/>
<circle cx="495.10" cy="650.40" r="2.6" fill="#68a44e"/>
<circle cx="501.50" cy="651.50" r="2.6" fill="#68a44e"/>
<circle cx="498.80" cy="663.10" r="2.6" fill="#68a44e"/>
<path d="M492.24 655.70H505.36" stroke="#000" stroke-width="1.45"/>
<path d="M59.30 691.70V789.00M58.55 789.00H141.30" stroke="#000" stroke-width="1.5" fill="none"/>
<text transform="translate(52.30 791.92) scale(0.94,1)" class="t" text-anchor="end">0</text>
<text transform="translate(52.30 776.27) scale(0.94,1)" class="t" text-anchor="end">10</text>
<text transform="translate(52.30 760.62) scale(0.94,1)" class="t" text-anchor="end">20</text>
<text transform="translate(52.30 744.97) scale(0.94,1)" class="t" text-anchor="end">30</text>
<text transform="translate(52.30 729.32) scale(0.94,1)" class="t" text-anchor="end">40</text>
<text transform="translate(52.30 713.67) scale(0.94,1)" class="t" text-anchor="end">50</text>
<text transform="translate(52.30 698.02) scale(0.94,1)" class="t" text-anchor="end">60</text>
<path d="M55.30 789.00H59.30M55.30 773.35H59.30M55.30 757.70H59.30M55.30 742.05H59.30M55.30 726.40H59.30M55.30 710.75H59.30M55.30 695.10H59.30M66.40 789.00V792.00M83.40 789.00V792.00M100.20 789.00V792.00M116.70 789.00V792.00M133.50 789.00V792.00" stroke="#000" stroke-width="1.2" fill="none"/>
<circle cx="66.40" cy="786.00" r="2.6" fill="#c9c9c9"/>
<circle cx="66.40" cy="788.00" r="2.6" fill="#c9c9c9"/>
<circle cx="67.00" cy="787.00" r="2.6" fill="#c9c9c9"/>
<path d="M60.86 788.20H71.94" stroke="#000" stroke-width="1.45"/>
<circle cx="83.40" cy="787.30" r="2.6" fill="#a2103c"/>
<circle cx="84.00" cy="788.00" r="2.6" fill="#a2103c"/>
<circle cx="82.50" cy="788.00" r="2.6" fill="#a2103c"/>
<path d="M77.86 788.30H88.94" stroke="#000" stroke-width="1.45"/>
<path d="M100.20 751.70V764.50M96.68 751.70H103.72M96.68 764.50H103.72" stroke="#3a4c72" stroke-width="1.2" fill="none"/>
<circle cx="100.80" cy="751.70" r="2.6" fill="#2c4878"/>
<circle cx="97.90" cy="762.10" r="2.6" fill="#2c4878"/>
<circle cx="104.40" cy="761.40" r="2.6" fill="#2c4878"/>
<path d="M94.66 758.60H105.74" stroke="#000" stroke-width="1.45"/>
<path d="M116.70 765.40V780.00M113.18 765.40H120.22M113.18 780.00H120.22" stroke="#d59c3e" stroke-width="1.2" fill="none"/>
<circle cx="117.20" cy="765.40" r="2.6" fill="#e29f37"/>
<circle cx="121.20" cy="774.00" r="2.6" fill="#e29f37"/>
<circle cx="113.90" cy="779.10" r="2.6" fill="#e29f37"/>
<path d="M111.16 773.10H122.24" stroke="#000" stroke-width="1.45"/>
<circle cx="133.10" cy="781.30" r="2.6" fill="#68a44e"/>
<circle cx="133.10" cy="785.10" r="2.6" fill="#68a44e"/>
<circle cx="133.50" cy="783.00" r="2.6" fill="#68a44e"/>
<path d="M127.96 782.70H139.04" stroke="#000" stroke-width="1.45"/>
<text class="xl" text-anchor="end" transform="translate(72.10 799.60) rotate(-45)">Day-7</text>
<text class="xl" text-anchor="end" transform="translate(89.10 799.60) rotate(-45)">15min</text>
<text class="xl" text-anchor="end" transform="translate(105.90 799.60) rotate(-45)">Day 1</text>
<text class="xl" text-anchor="end" transform="translate(122.40 799.60) rotate(-45)">Day 7</text>
<text class="xl" text-anchor="end" transform="translate(139.20 799.60) rotate(-45)">Day 14</text>
<path d="M182.50 689.30V788.90M181.75 788.90H262.60" stroke="#000" stroke-width="1.5" fill="none"/>
<text transform="translate(175.50 791.82) scale(0.94,1)" class="t" text-anchor="end">0</text>
<text transform="translate(175.50 772.58) scale(0.94,1)" class="t" text-anchor="end">20</text>
<text transform="translate(175.50 753.34) scale(0.94,1)" class="t" text-anchor="end">40</text>
<text transform="translate(175.50 734.10) scale(0.94,1)" class="t" text-anchor="end">60</text>
<text transform="translate(175.50 714.86) scale(0.94,1)" class="t" text-anchor="end">80</text>
<text transform="translate(175.50 695.62) scale(0.94,1)" class="t" text-anchor="end">100</text>
<path d="M178.50 788.90H182.50M178.50 769.66H182.50M178.50 750.42H182.50M178.50 731.18H182.50M178.50 711.94H182.50M178.50 692.70H182.50M192.20 788.90V791.90M213.00 788.90V791.90M233.80 788.90V791.90M254.30 788.90V791.90" stroke="#000" stroke-width="1.2" fill="none"/>
<circle cx="190.40" cy="767.20" r="2.6" fill="#a2103c"/>
<circle cx="192.70" cy="771.20" r="2.6" fill="#a2103c"/>
<circle cx="195.00" cy="767.50" r="2.6" fill="#a2103c"/>
<path d="M185.37 768.90H199.03" stroke="#000" stroke-width="1.45"/>
<circle cx="210.50" cy="708.80" r="2.6" fill="#2c4878"/>
<circle cx="214.60" cy="710.00" r="2.6" fill="#2c4878"/>
<circle cx="213.00" cy="711.00" r="2.6" fill="#2c4878"/>
<path d="M206.17 709.50H219.83" stroke="#000" stroke-width="1.45"/>
<path d="M233.80 741.80V785.00M229.45 741.80H238.15M229.45 785.00H238.15" stroke="#d59c3e" stroke-width="1.2" fill="none"/>
<circle cx="230.80" cy="747.40" r="2.6" fill="#e29f37"/>
<circle cx="237.70" cy="754.30" r="2.6" fill="#e29f37"/>
<circle cx="233.80" cy="786.60" r="2.6" fill="#e29f37"/>
<path d="M226.97 763.50H240.63" stroke="#000" stroke-width="1.45"/>
<circle cx="252.70" cy="759.60" r="2.6" fill="#68a44e"/>
<circle cx="256.00" cy="759.60" r="2.6" fill="#68a44e"/>
<circle cx="255.00" cy="765.40" r="2.6" fill="#68a44e"/>
<path d="M247.47 761.20H261.13" stroke="#000" stroke-width="1.45"/>
<text class="xl" text-anchor="end" transform="translate(197.90 799.50) rotate(-45)">15min</text>
<text class="xl" text-anchor="end" transform="translate(218.70 799.50) rotate(-45)">Day 1</text>
<text class="xl" text-anchor="end" transform="translate(239.50 799.50) rotate(-45)">Day 7</text>
<text class="xl" text-anchor="end" transform="translate(260.00 799.50) rotate(-45)">Day 14</text>
<path d="M306.50 689.30V789.20M305.75 789.20H385.40" stroke="#000" stroke-width="1.5" fill="none"/>
<text transform="translate(299.50 792.12) scale(0.94,1)" class="t" text-anchor="end">0</text>
<text transform="translate(299.50 776.04) scale(0.94,1)" class="t" text-anchor="end">10</text>
<text transform="translate(299.50 759.96) scale(0.94,1)" class="t" text-anchor="end">20</text>
<text transform="translate(299.50 743.87) scale(0.94,1)" class="t" text-anchor="end">30</text>
<text transform="translate(299.50 727.79) scale(0.94,1)" class="t" text-anchor="end">40</text>
<text transform="translate(299.50 711.71) scale(0.94,1)" class="t" text-anchor="end">50</text>
<text transform="translate(299.50 695.62) scale(0.94,1)" class="t" text-anchor="end">60</text>
<path d="M302.50 789.20H306.50M302.50 773.12H306.50M302.50 757.03H306.50M302.50 740.95H306.50M302.50 724.87H306.50M302.50 708.78H306.50M302.50 692.70H306.50M315.00 789.20V792.20M330.70 789.20V792.20M346.80 789.20V792.20M363.00 789.20V792.20M378.90 789.20V792.20" stroke="#000" stroke-width="1.2" fill="none"/>
<circle cx="315.00" cy="786.60" r="2.6" fill="#c9c9c9"/>
<circle cx="315.00" cy="788.00" r="2.6" fill="#c9c9c9"/>
<circle cx="316.00" cy="787.00" r="2.6" fill="#c9c9c9"/>
<path d="M309.73 787.80H320.27" stroke="#000" stroke-width="1.45"/>
<circle cx="330.50" cy="779.70" r="2.6" fill="#a2103c"/>
<circle cx="330.50" cy="781.50" r="2.6" fill="#a2103c"/>
<circle cx="331.00" cy="780.50" r="2.6" fill="#a2103c"/>
<path d="M325.43 780.90H335.97" stroke="#000" stroke-width="1.45"/>
<path d="M346.80 765.40V774.20M343.45 765.40H350.15M343.45 774.20H350.15" stroke="#3a4c72" stroke-width="1.2" fill="none"/>
<circle cx="347.30" cy="765.40" r="2.6" fill="#2c4878"/>
<circle cx="343.80" cy="774.20" r="2.6" fill="#2c4878"/>
<circle cx="351.20" cy="770.50" r="2.6" fill="#2c4878"/>
<path d="M341.53 770.00H352.07" stroke="#000" stroke-width="1.45"/>
<circle cx="362.30" cy="770.00" r="2.6" fill="#e29f37"/>
<circle cx="363.50" cy="779.20" r="2.6" fill="#e29f37"/>
<circle cx="363.00" cy="774.00" r="2.6" fill="#e29f37"/>
<path d="M357.73 773.90H368.27" stroke="#000" stroke-width="1.45"/>
<circle cx="378.50" cy="771.20" r="2.6" fill="#68a44e"/>
<circle cx="378.90" cy="778.80" r="2.6" fill="#68a44e"/>
<circle cx="379.00" cy="775.00" r="2.6" fill="#68a44e"/>
<path d="M373.63 773.90H384.17" stroke="#000" stroke-width="1.45"/>
<text class="xl" text-anchor="end" transform="translate(320.70 799.80) rotate(-45)">Day-7</text>
<text class="xl" text-anchor="end" transform="translate(336.40 799.80) rotate(-45)">15min</text>
<text class="xl" text-anchor="end" transform="translate(352.50 799.80) rotate(-45)">Day 1</text>
<text class="xl" text-anchor="end" transform="translate(368.70 799.80) rotate(-45)">Day 7</text>
<text class="xl" text-anchor="end" transform="translate(384.60 799.80) rotate(-45)">Day 14</text>
<path d="M428.40 690.90V789.20M427.65 789.20H511.90" stroke="#000" stroke-width="1.5" fill="none"/>
<text transform="translate(421.40 792.12) scale(0.94,1)" class="t" text-anchor="end">0</text>
<text transform="translate(421.40 773.14) scale(0.94,1)" class="t" text-anchor="end">20</text>
<text transform="translate(421.40 754.16) scale(0.94,1)" class="t" text-anchor="end">40</text>
<text transform="translate(421.40 735.18) scale(0.94,1)" class="t" text-anchor="end">60</text>
<text transform="translate(421.40 716.20) scale(0.94,1)" class="t" text-anchor="end">80</text>
<text transform="translate(421.40 697.22) scale(0.94,1)" class="t" text-anchor="end">100</text>
<path d="M424.40 789.20H428.40M424.40 770.22H428.40M424.40 751.24H428.40M424.40 732.26H428.40M424.40 713.28H428.40M424.40 694.30H428.40M438.10 789.20V792.20M458.80 789.20V792.20M479.60 789.20V792.20M500.90 789.20V792.20" stroke="#000" stroke-width="1.2" fill="none"/>
<circle cx="435.80" cy="768.90" r="2.6" fill="#a2103c"/>
<circle cx="440.40" cy="772.30" r="2.6" fill="#a2103c"/>
<circle cx="438.00" cy="772.50" r="2.6" fill="#a2103c"/>
<path d="M431.19 771.60H445.01" stroke="#000" stroke-width="1.45"/>
<circle cx="457.20" cy="742.80" r="2.6" fill="#2c4878"/>
<circle cx="461.20" cy="745.80" r="2.6" fill="#2c4878"/>
<circle cx="459.00" cy="746.50" r="2.6" fill="#2c4878"/>
<path d="M451.89 745.10H465.71" stroke="#000" stroke-width="1.45"/>
<path d="M479.60 771.80V786.60M475.20 771.80H484.00M475.20 786.60H484.00" stroke="#d59c3e" stroke-width="1.2" fill="none"/>
<circle cx="476.60" cy="773.50" r="2.6" fill="#e29f37"/>
<circle cx="483.50" cy="775.80" r="2.6" fill="#e29f37"/>
<circle cx="479.60" cy="786.60" r="2.6" fill="#e29f37"/>
<path d="M472.69 779.20H486.51" stroke="#000" stroke-width="1.45"/>
<circle cx="499.20" cy="777.40" r="2.6" fill="#68a44e"/>
<circle cx="502.50" cy="777.40" r="2.6" fill="#68a44e"/>
<circle cx="501.00" cy="778.00" r="2.6" fill="#68a44e"/>
<path d="M493.99 777.60H507.81" stroke="#000" stroke-width="1.45"/>
<text class="xl" text-anchor="end" transform="translate(443.80 799.80) rotate(-45)">15min</text>
<text class="xl" text-anchor="end" transform="translate(464.50 799.80) rotate(-45)">Day 1</text>
<text class="xl" text-anchor="end" transform="translate(485.30 799.80) rotate(-45)">Day 7</text>
<text class="xl" text-anchor="end" transform="translate(506.60 799.80) rotate(-45)">Day 14</text>
<text x="92.1" y="19.8" class="ti" text-anchor="middle">Blood</text>
<text x="215.7" y="19.6" class="ti" text-anchor="middle">Bone Marrow</text>
<text x="340" y="20.2" class="ti" text-anchor="middle">Spleen</text>
<text x="100.8" y="434.6" class="ti" text-anchor="middle">PB CD8+/69+</text>
<text x="225.0" y="434.4" class="ti" text-anchor="middle">BM CD8+/69+</text>
<text x="345.6" y="435.0" class="ti" text-anchor="middle">PB CD4+/69+</text>
<text x="470.4" y="435.2" class="ti" text-anchor="middle">BM CD4+/69+</text>
<text x="8.2" y="18.6" class="le">A</text>
<text x="8.5" y="152.8" class="le">B</text>
<text x="8.4" y="276.4" class="le">C</text>
<text x="8.5" y="432.1" class="le">D</text>
<text x="8.6" y="568.6" class="le">E</text>
<text x="8.6" y="694.2" class="le">F</text>
<text class="yl" style="font-size:10.7px" textLength="71.5" lengthAdjust="spacingAndGlyphs" text-anchor="middle" transform="translate(30.8 75.8) rotate(-90)">% hCLL-1<tspan dx="0.6" dy="-3.4" font-size="7.2">+</tspan><tspan dx="-0.6" dy="3.4"> cells</tspan></text>
<text class="yl" style="font-size:10.7px" textLength="71.5" lengthAdjust="spacingAndGlyphs" text-anchor="middle" transform="translate(30.8 199.3) rotate(-90)">% hCLL-1<tspan dx="0.6" dy="-3.4" font-size="7.2">+</tspan><tspan dx="-0.6" dy="3.4"> cells</tspan></text>
<text class="yl" style="font-size:10.7px" textLength="71.5" lengthAdjust="spacingAndGlyphs" text-anchor="middle" transform="translate(30.8 328.5) rotate(-90)">% hCLL-1<tspan dx="0.6" dy="-3.4" font-size="7.2">+</tspan><tspan dx="-0.6" dy="3.4"> cells</tspan></text>
<text class="yl" style="font-size:10.4px" textLength="72.3" lengthAdjust="spacingAndGlyphs" text-anchor="middle" transform="translate(35.5 492.1) rotate(-90)">% CD69+ T cells</text>
<text class="yl" style="font-size:10.4px" textLength="72.3" lengthAdjust="spacingAndGlyphs" text-anchor="middle" transform="translate(35.5 616.0) rotate(-90)">% CD69+ T cells</text>
<text class="yl" style="font-size:10.4px" textLength="72.3" lengthAdjust="spacingAndGlyphs" text-anchor="middle" transform="translate(35.5 741.3) rotate(-90)">% CD69+ T cells</text>
</svg>
</body></html>
